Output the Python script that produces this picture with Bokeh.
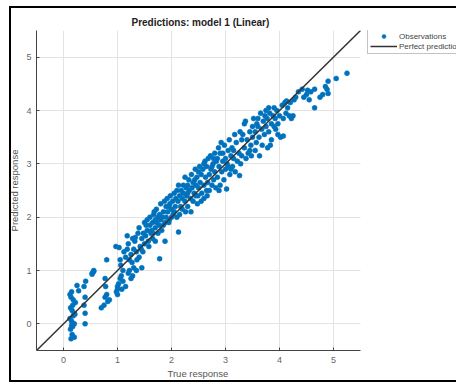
from bokeh.plotting import figure
from bokeh.models import Legend, LegendItem, Range1d, FixedTicker, Title
from bokeh.embed import file_html
from bokeh.resources import INLINE

true_response = [
    0.12, 0.14, 0.15, 0.17, 0.13, 0.16, 0.2, 0.18, 0.12, 0.15, 0.2, 0.17, 0.13, 0.16, 0.2, 0.14, 0.22, 0.18, 0.15, 0.21,
    0.25, 0.38, 0.4, 0.38, 0.4, 0.4, 0.28, 0.41, 0.53, 0.56,
    0.53, 0.56, 0.7, 0.75, 0.77, 0.8, 0.78, 0.77, 0.8, 0.85, 0.82,
    0.98, 1.0, 1.0, 0.97, 1.03, 1.05, 1.07, 1.05, 1.1, 1.0, 1.02, 1.08, 1.1, 1.12, 1.06,
    1.15, 1.18, 1.2, 1.2, 1.22, 1.25, 1.25, 1.27, 1.28, 1.3, 1.15, 1.22, 1.3, 1.18, 1.28,
    1.32, 1.35, 1.36, 1.38, 1.4, 1.42, 1.45, 1.45, 1.47, 1.5, 1.35, 1.4, 1.48, 1.44, 1.5, 1.33,
    1.52, 1.55, 1.55, 1.57, 1.6, 1.6, 1.62, 1.65, 1.65, 1.67, 1.7, 1.7, 1.58, 1.63, 1.68, 1.53, 1.66, 1.7,
    1.72, 1.75, 1.75, 1.77, 1.78, 1.8, 1.8, 1.82, 1.85, 1.85, 1.87, 1.88, 1.9, 1.9, 1.73, 1.78, 1.83, 1.88,
    1.92, 1.93, 1.95, 1.97, 1.98, 2.0, 2.0, 2.02, 2.05, 2.05, 2.07, 2.08, 2.1, 2.13, 1.95, 2.03, 2.1, 1.96,
    2.12, 2.13, 2.15, 2.17, 2.18, 2.2, 2.2, 2.22, 2.25, 2.25, 2.27, 2.28, 2.3, 2.3, 2.15, 2.22, 2.26, 2.3,
    2.32, 2.33, 2.35, 2.37, 2.38, 2.4, 2.4, 2.42, 2.44, 2.45, 2.45, 2.47, 2.48, 2.5, 2.5, 2.36, 2.43, 2.49,
    2.52, 2.53, 2.55, 2.56, 2.58, 2.6, 2.6, 2.62, 2.63, 2.65, 2.65, 2.67, 2.68, 2.7, 2.7, 2.55, 2.6, 2.66,
    2.72, 2.73, 2.75, 2.77, 2.78, 2.8, 2.8, 2.82, 2.85, 2.85, 2.87, 2.88, 2.9, 2.9, 2.75, 2.83, 2.88, 2.78,
    2.92, 2.93, 2.95, 2.97, 2.98, 3.0, 3.0, 3.02, 3.05, 3.05, 3.07, 3.08, 3.1, 3.1, 2.95, 3.03,
    3.12, 3.13, 3.15, 3.17, 3.18, 3.2, 3.22, 3.26, 3.25, 3.28, 3.3, 3.3, 3.15, 3.27,
    3.32, 3.35, 3.37, 3.38, 3.4, 3.42, 3.45, 3.47, 3.48, 3.5, 3.5, 3.35, 3.45,
    3.52, 3.55, 3.55, 3.57, 3.6, 3.6, 3.62, 3.63, 3.65, 3.67, 3.68, 3.7, 3.58,
    3.72, 3.73, 3.75, 3.75, 3.77, 3.78, 3.8, 3.8, 3.82, 3.85, 3.85, 3.88, 3.9, 3.9, 3.83,
    3.92, 3.95, 3.97, 3.97, 4.0, 4.02, 4.05, 4.07, 4.07, 4.1, 3.93,
    4.12, 4.15, 4.18, 4.2, 4.22, 4.25, 4.27, 4.3, 4.35, 4.13,
    4.42, 4.45, 4.5, 4.55, 4.58, 4.65, 4.65, 4.75, 4.8, 4.88, 4.9, 4.9, 5.05, 5.25, 4.52, 4.85,
]

predicted_response = [
    0.55, 0.5, 0.6, 0.35, 0.3, 0.25, 0.2, 0.15, 0.1, 0.05, 0.0, -0.05, -0.1, -0.2, -0.25, -0.28, 0.4, 0.45, -0.03, 0.18,
    0.72, 0.7, 0.5, 0.35, 0.2, 0.0, 0.62, 0.8, 0.95, 1.0,
    0.93, 0.98, 0.3, 0.35, 0.5, 0.55, 0.7, 0.85, 1.2, 0.45, 0.42,
    0.6, 0.65, 0.7, 1.45, 1.43, 0.85, 0.9, 1.2, 1.0, 0.55, 0.75, 0.65, 0.8, 1.35, 1.1,
    1.25, 1.65, 1.5, 0.95, 1.0, 0.85, 1.3, 1.15, 0.9, 1.4, 0.7, 1.2, 1.05, 1.4, 1.6,
    1.55, 1.35, 1.2, 1.7, 1.8, 1.45, 1.6, 1.05, 1.35, 1.5, 1.0, 1.25, 1.7, 1.4, 1.9, 1.62,
    1.65, 1.95, 1.75, 1.55, 1.85, 2.0, 1.7, 1.6, 1.9, 2.05, 1.8, 1.55, 1.45, 1.75, 2.1, 1.85, 1.7, 1.95,
    2.15, 1.7, 2.0, 1.85, 1.22, 2.25, 1.95, 1.75, 2.1, 1.85, 2.3, 1.55, 2.0, 2.2, 1.9, 2.05, 2.0, 1.9,
    2.35, 2.1, 1.9, 2.25, 2.4, 2.0, 2.15, 2.3, 2.45, 2.1, 2.2, 2.35, 2.0, 1.72, 2.2, 2.05, 2.5, 1.95,
    2.3, 2.6, 2.4, 2.2, 2.5, 2.35, 2.15, 2.45, 2.75, 2.3, 2.55, 2.4, 2.6, 2.2, 2.05, 2.6, 2.1, 2.45,
    2.7, 2.5, 2.35, 2.8, 2.55, 2.3, 2.65, 2.45, 2.9, 2.6, 2.4, 2.75, 2.25, 2.85, 2.55, 2.1, 2.7, 2.4,
    2.95, 2.65, 2.8, 2.45, 2.9, 2.6, 2.35, 3.05, 2.75, 2.5, 2.95, 2.65, 3.1, 2.8, 2.5, 2.3, 3.0, 2.4,
    3.15, 2.9, 2.6, 3.0, 2.7, 3.2, 2.85, 2.55, 3.1, 2.75, 3.3, 2.95, 2.6, 3.2, 2.95, 3.05, 2.5, 3.1,
    3.4, 2.85, 3.05, 2.7, 3.35, 3.1, 2.9, 2.53, 3.25, 2.95, 3.45, 2.8, 3.15, 2.9, 3.2, 3.0,
    3.3, 2.95, 3.1, 3.55, 2.85, 3.4, 3.05, 2.78, 3.2, 3.0, 3.45, 3.15, 3.25, 3.6,
    3.55, 3.3, 3.8, 3.1, 3.45, 3.2, 3.6, 3.35, 3.15, 3.7, 3.5, 3.75, 3.25,
    3.85, 3.6, 3.25, 3.4, 3.85, 3.7, 3.5, 3.15, 3.95, 3.65, 3.35, 3.8, 3.75,
    3.55, 3.9, 4.0, 3.7, 3.85, 3.3, 4.05, 3.6, 3.95, 3.75, 3.45, 3.9, 4.05, 3.7, 3.35,
    3.85, 4.0, 3.55, 3.75, 3.9, 3.5, 4.1, 3.85, 3.52, 4.15, 3.65,
    3.95, 4.05, 3.9, 4.15, 3.85, 3.9, 4.2, 4.25, 4.35, 4.18,
    4.4, 4.25, 4.3, 4.2, 4.35, 4.05, 4.4, 4.25, 4.3, 4.4, 4.55, 4.32, 4.6, 4.7, 4.38, 4.45,
]

perfect_x = [-0.5, 5.5]
perfect_y = [-0.5, 5.5]
x_ticks = [0, 1, 2, 3, 4, 5]
y_ticks = [0, 1, 2, 3, 4, 5]
axis_limits = (-0.5, 5.5)

FONT = "Liberation Sans"
BLUE = "#0072BD"

W, H = 456, 383
LEFT, TOP, BOTTOM = 36, 30, 33
AXES_W = 324                     # pixel width of the drawn axes box
frame_w = W - LEFT               # frame extends right so the legend is not clipped
x_end = axis_limits[0] + (axis_limits[1] - axis_limits[0]) * frame_w / AXES_W

p = figure(width=W, height=H, output_backend="svg", toolbar_location=None,
           x_range=Range1d(axis_limits[0], x_end), y_range=Range1d(*axis_limits),
           title="Predictions: model 1 (Linear)",
           min_border_left=LEFT, min_border_right=0, min_border_top=TOP, min_border_bottom=BOTTOM)
# outer black frame of the figure window (left, top, bottom edges), drawn behind the transparent canvas border
p.styles = {
    "background-color": "white",
    "background-image": "linear-gradient(#000,#000), linear-gradient(#000,#000), linear-gradient(#000,#000)",
    "background-repeat": "no-repeat",
    "background-size": "2px 376px, 447px 2px, 447px 2px",
    "background-position": "9px 6px, 9px 6px, 9px 380px",
}

p.title.text_font = FONT
p.title.text_font_size = "10px"
p.title.text_font_style = "bold"
p.title.text_color = "#222222"
p.title.align = "left"
p.title.offset = 95
p.title.standoff = 6

p.outline_line_color = None
p.background_fill_color = "white"
p.border_fill_alpha = 0

for ax in (p.xaxis[0], p.yaxis[0]):
    ax.axis_line_color = "#444444"
    ax.axis_line_width = 1
    ax.major_tick_line_color = "#444444"
    ax.major_tick_in = 3
    ax.major_tick_out = 0
    ax.minor_tick_line_color = None
    ax.major_label_text_font = FONT
    ax.major_label_text_font_size = "9px"
    ax.major_label_text_color = "#666666"

p.xaxis.ticker = FixedTicker(ticks=x_ticks)
p.yaxis.ticker = FixedTicker(ticks=y_ticks)
p.xaxis.bounds = axis_limits
p.xaxis.major_label_standoff = 6
p.yaxis.major_label_standoff = 5

p.yaxis.axis_label = "Predicted response"
p.yaxis.axis_label_text_font = FONT
p.yaxis.axis_label_text_font_size = "9.5px"
p.yaxis.axis_label_text_font_style = "normal"
p.yaxis.axis_label_text_color = "#555555"
p.yaxis.axis_label_standoff = 3

# x-axis label centred under the drawn axes box (the frame itself is wider)
xlabel = Title(text="True response", align="left", offset=131, standoff=1,
               text_font=FONT, text_font_size="9.5px", text_font_style="normal",
               text_color="#555555")
p.add_layout(xlabel, "below")

p.grid.grid_line_color = "#e3e3e3"
p.grid.grid_line_width = 1
p.ygrid.cross_bounds = axis_limits

obs = p.scatter(true_response, predicted_response, size=5, color=BLUE, line_color=BLUE, line_width=0.5)
perf = p.line(perfect_x, perfect_y, line_color="#333333", line_width=1.5)

legend = Legend(items=[LegendItem(label="Observations", renderers=[obs]),
                       LegendItem(label="Perfect prediction", renderers=[perf])],
                location=(331, 296))
legend.label_text_font = FONT
legend.label_text_font_size = "8px"
legend.label_text_color = "#444444"
legend.glyph_width = 27
legend.glyph_height = 10
legend.label_height = 10
legend.label_standoff = 2
legend.spacing = 0
legend.padding = 2
legend.margin = 0
legend.border_line_color = "#888888"
legend.border_line_width = 1
legend.background_fill_color = "white"
legend.background_fill_alpha = 1
p.add_layout(legend, "center")

open("out.html", "w").write(file_html(p, INLINE))
